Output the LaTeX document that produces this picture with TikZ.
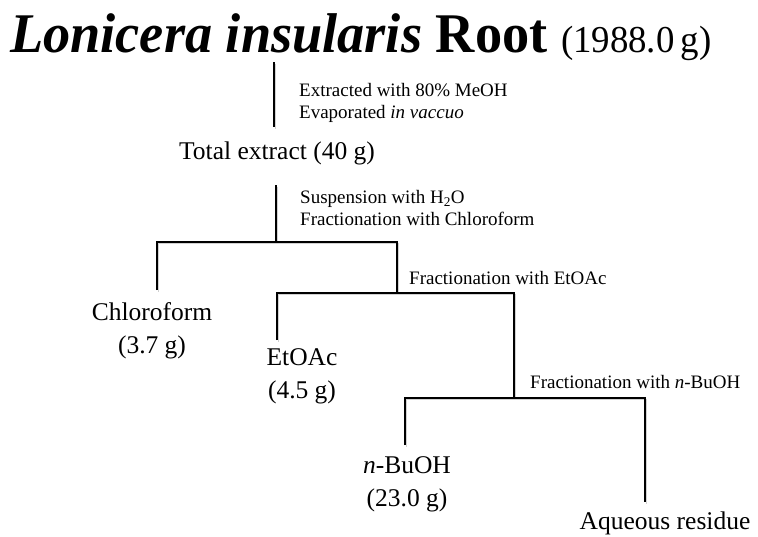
\documentclass[tikz,border=0pt]{standalone}
\usepackage{fontspec}
\setmainfont{Liberation Serif}
\begin{document}
\begin{tikzpicture}[x=1pt,y=-1pt,
  tree/.style={line width=1.6pt,
    preaction={draw=black!18, line width=1.6pt,
      transform canvas={shift={(1.6pt,-1.6pt)}}}},
  note/.style={anchor=west, align=left, inner sep=0pt,
    font=\fontsize{19}{22}\selectfont},
  frac/.style={align=center, inner sep=0pt,
    font=\fontsize{25.5}{33}\selectfont}]
\useasboundingbox (0,0) rectangle (758,536);
% title
\node[anchor=base west, inner sep=0pt, xscale=0.97] (title) at (10,52)
  {\fontsize{56}{60}\selectfont\textbf{\textit{Lonicera insularis} Root}
   \fontsize{38}{46}\selectfont(1988.0\,g)};
% fractions
\node[frac, anchor=base] (total) at (277,159) {Total extract (40 g)};
\node[frac] (chcl) at (152,331) {Chloroform\\(3.7 g)};
\node[frac] (etoac) at (302,376) {EtOAc\\(4.5 g)};
\node[frac] (buoh) at (407,484) {\textit{n}-BuOH\\(23.0 g)};
\node[frac, anchor=base] (aq) at (665,529) {Aqueous residue};
% conditions
\node[note] (ext) at (299,103) {Extracted with 80\% MeOH\\Evaporated \textit{in vaccuo}};
\node[note] (susp) at (300,208) {Suspension with H\textsubscript{2}O\\Fractionation with Chloroform};
\node[note] (fea) at (409,278) {Fractionation with EtOAc};
\node[note] (fbu) at (530,382) {Fractionation with \textit{n}-BuOH};
% tree
\coordinate (r0) at (274,62);
\coordinate (r1) at (274,127);
\coordinate (t1) at (276,185);
\coordinate (b1) at (276,242);
\coordinate (cA) at (157,290);
\coordinate (b2) at (397,293);
\coordinate (cC) at (277,340);
\coordinate (b3) at (514,398);
\coordinate (cE) at (405,445);
\coordinate (cF) at (645,502);
\draw[tree] (r0) -- (r1);
\draw[tree] (t1) -- (b1);
\draw[tree] (cA) |- (b1) -| (b2);
\draw[tree] (cC) |- (b2) -| (b3);
\draw[tree] (cE) |- (b3) -| (cF);
\end{tikzpicture}
\end{document}
